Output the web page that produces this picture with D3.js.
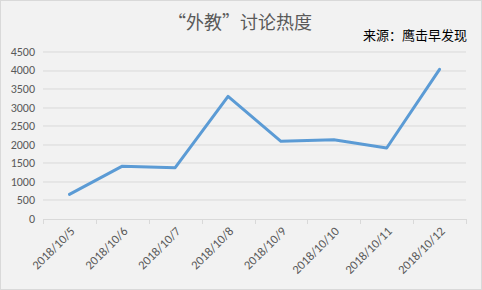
<!DOCTYPE html>
<html>
<head>
<meta charset="utf-8">
<script src="https://cdn.jsdelivr.net/npm/d3@7"></script>
<style>
  body { margin: 0; background: #fff; }
  svg { display: block; font-family: "Microsoft YaHei", "Noto Sans CJK SC", sans-serif; }
</style>
</head>
<body>
<div id="chart"></div>
<script>
const dates = ["2018/10/5", "2018/10/6", "2018/10/7", "2018/10/8", "2018/10/9", "2018/10/10", "2018/10/11", "2018/10/12"];
const heat = [650, 1410, 1370, 3290, 2080, 2120, 1900, 4020];
const yTicks = [0, 500, 1000, 1500, 2000, 2500, 3000, 3500, 4000, 4500];
const title = "“外教”讨论热度";
const source = "来源：鹰击早发现";

const W = 482, H = 290;
const margin = {top: 51.5, right: 16, bottom: 71.5, left: 43};
const width = W - margin.left - margin.right;
const height = H - margin.top - margin.bottom;

const svg = d3.select("#chart").append("svg")
    .attr("width", W)
    .attr("height", H);

svg.append("rect")
    .attr("x", 0.5).attr("y", 0.5)
    .attr("width", W - 1).attr("height", H - 1)
    .attr("fill", "#f2f2f2")
    .attr("stroke", "#d9d9d9");

svg.append("text")
    .attr("x", 240).attr("y", 29)
    .attr("text-anchor", "middle")
    .attr("fill", "#595959")
    .style("font-size", "18px")
    .text(title);

svg.append("text")
    .attr("x", 467).attr("y", 40)
    .attr("text-anchor", "end")
    .attr("fill", "#000")
    .style("font-size", "13px")
    .text(source);

const g = svg.append("g")
    .attr("transform", `translate(${margin.left},${margin.top})`);

const x = d3.scaleBand().domain(dates).range([0, width]);
const y = d3.scaleLinear().domain([0, 4500]).range([height, 0]);

// gridlines
g.selectAll(".grid")
    .data(yTicks.slice(1))
    .enter().append("line")
    .attr("class", "grid")
    .attr("x1", 0).attr("x2", width)
    .attr("y1", d => Math.round(y(d)) + 0.5)
    .attr("y2", d => Math.round(y(d)) + 0.5)
    .attr("stroke", "#d9d9d9");

// y axis labels
const yAxis = d3.axisLeft(y).tickValues(yTicks).tickFormat(d3.format("d")).tickSize(0).tickPadding(8);
const yG = g.append("g").call(yAxis);
yG.select(".domain").remove();
yG.selectAll("text").attr("fill", "#595959").style("font-size", "12px")
    .style("font-family", "Calibri, Carlito, 'Open Sans', sans-serif");

// x axis
const xAxis = d3.axisBottom(x).tickSizeOuter(0).tickSizeInner(0);
const xG = g.append("g")
    .attr("transform", `translate(0,${Math.round(height) + 0.5})`)
    .call(xAxis);
xG.select(".domain").attr("stroke", "#d9d9d9");
xG.selectAll(".tick line").remove();
// boundary ticks between categories
xG.selectAll(".bound")
    .data(dates.concat(["end"]))
    .enter().append("line")
    .attr("x1", (d, i) => Math.round(i * x.bandwidth()) + 0.5)
    .attr("x2", (d, i) => Math.round(i * x.bandwidth()) + 0.5)
    .attr("y1", 0).attr("y2", 5)
    .attr("stroke", "#d9d9d9");
xG.selectAll(".tick text")
    .attr("fill", "#595959")
    .style("font-size", "12.5px")
    .style("font-family", "Calibri, Carlito, 'Open Sans', sans-serif")
    .attr("text-anchor", "end")
    .attr("dy", 0)
    .attr("transform", "translate(4,11) rotate(-45)");

// line
const line = d3.line()
    .x((d, i) => x(dates[i]) + x.bandwidth() / 2)
    .y(d => y(d));

g.append("path")
    .datum(heat)
    .attr("fill", "none")
    .attr("stroke", "#5b9bd5")
    .attr("stroke-width", 3)
    .attr("stroke-linejoin", "round")
    .attr("stroke-linecap", "round")
    .attr("d", line);
</script>
</body>
</html>
